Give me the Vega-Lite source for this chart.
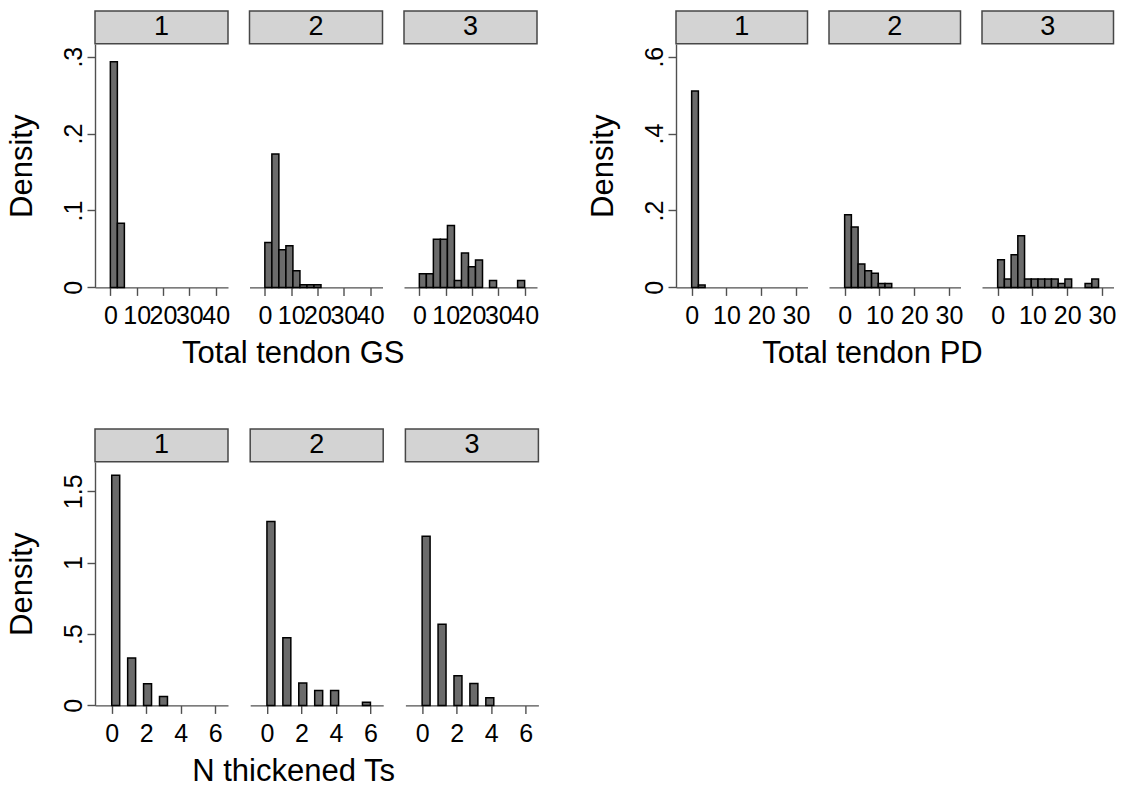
{
"$schema": "https://vega.github.io/schema/vega-lite/v6.json",
"background": "white",
"padding": {"left": 6, "top": 10, "right": 0, "bottom": 0},
"config": {
  "font": "Liberation Sans",
  "view": {"stroke": null},
  "axis": {"grid": false, "domainColor": "#505050", "tickColor": "#505050", "domainWidth": 1.4, "tickWidth": 1.4, "tickSize": 8, "labelFontSize": 25, "labelColor": "#000", "titleFontSize": 31, "titleFontWeight": "normal", "titleColor": "#000", "labelOverlap": false, "labelFlush": false},
  "axisX": {"labelPadding": 8},
  "axisY": {"labelAngle": -90, "labelAlign": "center", "labelBaseline": "bottom", "labelPadding": 1, "titlePadding": 23},
  "title": {"fontSize": 31, "fontWeight": "normal", "color": "#000"}
},
"datasets": {
  "gs": [
    {"panel":"1","x0":0,"x1":2.667,"d":0.2935},
    {"panel":"1","x0":2.667,"x1":5.333,"d":0.0835},
    {"panel":"2","x0":0,"x1":2.667,"d":0.0584},
    {"panel":"2","x0":2.667,"x1":5.333,"d":0.1736},
    {"panel":"2","x0":5.333,"x1":8,"d":0.0489},
    {"panel":"2","x0":8,"x1":10.667,"d":0.0541},
    {"panel":"2","x0":10.667,"x1":13.333,"d":0.0216},
    {"panel":"2","x0":13.333,"x1":16,"d":0.0035},
    {"panel":"2","x0":16,"x1":18.667,"d":0.0035},
    {"panel":"2","x0":18.667,"x1":21.333,"d":0.0035},
    {"panel":"3","x0":0,"x1":2.667,"d":0.0179},
    {"panel":"3","x0":2.667,"x1":5.333,"d":0.0179},
    {"panel":"3","x0":5.333,"x1":8,"d":0.0625},
    {"panel":"3","x0":8,"x1":10.667,"d":0.0625},
    {"panel":"3","x0":10.667,"x1":13.333,"d":0.0804},
    {"panel":"3","x0":13.333,"x1":16,"d":0.0089},
    {"panel":"3","x0":16,"x1":18.667,"d":0.0446},
    {"panel":"3","x0":18.667,"x1":21.333,"d":0.0268},
    {"panel":"3","x0":21.333,"x1":24,"d":0.0357},
    {"panel":"3","x0":26.667,"x1":29.333,"d":0.0089},
    {"panel":"3","x0":37.333,"x1":40,"d":0.0089}
  ],
  "pd": [
    {"panel":"1","x0":0,"x1":1.933,"d":0.511},
    {"panel":"1","x0":1.933,"x1":3.867,"d":0.006},
    {"panel":"2","x0":0,"x1":1.933,"d":0.189},
    {"panel":"2","x0":1.933,"x1":3.867,"d":0.157},
    {"panel":"2","x0":3.867,"x1":5.8,"d":0.061},
    {"panel":"2","x0":5.8,"x1":7.733,"d":0.0435},
    {"panel":"2","x0":7.733,"x1":9.667,"d":0.0365},
    {"panel":"2","x0":9.667,"x1":11.6,"d":0.0104},
    {"panel":"2","x0":11.6,"x1":13.533,"d":0.0104},
    {"panel":"3","x0":0,"x1":1.933,"d":0.072},
    {"panel":"3","x0":1.933,"x1":3.867,"d":0.0217},
    {"panel":"3","x0":3.867,"x1":5.8,"d":0.085},
    {"panel":"3","x0":5.8,"x1":7.733,"d":0.134},
    {"panel":"3","x0":7.733,"x1":9.667,"d":0.0217},
    {"panel":"3","x0":9.667,"x1":11.6,"d":0.0217},
    {"panel":"3","x0":11.6,"x1":13.533,"d":0.0217},
    {"panel":"3","x0":13.533,"x1":15.467,"d":0.0217},
    {"panel":"3","x0":15.467,"x1":17.4,"d":0.0217},
    {"panel":"3","x0":17.4,"x1":19.333,"d":0.0104},
    {"panel":"3","x0":19.333,"x1":21.267,"d":0.0217},
    {"panel":"3","x0":25.133,"x1":27.067,"d":0.0104},
    {"panel":"3","x0":27.067,"x1":29,"d":0.0217}
  ],
  "nt": [
    {"panel":"1","x0":0,"x1":0.4615,"d":1.612},
    {"panel":"1","x0":0.923,"x1":1.385,"d":0.332},
    {"panel":"1","x0":1.846,"x1":2.308,"d":0.152},
    {"panel":"1","x0":2.769,"x1":3.231,"d":0.063},
    {"panel":"2","x0":0,"x1":0.4615,"d":1.289},
    {"panel":"2","x0":0.923,"x1":1.385,"d":0.474},
    {"panel":"2","x0":1.846,"x1":2.308,"d":0.157},
    {"panel":"2","x0":2.769,"x1":3.231,"d":0.105},
    {"panel":"2","x0":3.692,"x1":4.154,"d":0.105},
    {"panel":"2","x0":5.538,"x1":6,"d":0.022},
    {"panel":"3","x0":0,"x1":0.4615,"d":1.185},
    {"panel":"3","x0":0.923,"x1":1.385,"d":0.568},
    {"panel":"3","x0":1.846,"x1":2.308,"d":0.208},
    {"panel":"3","x0":2.769,"x1":3.231,"d":0.154},
    {"panel":"3","x0":3.692,"x1":4.154,"d":0.054}
  ]
},
"spacing": 58,
"vconcat": [
{
 "spacing": 48,
 "hconcat": [
 {
  "title": {"text": "Total tendon GS", "orient": "bottom", "anchor": "middle", "frame": "bounds", "dx": 21, "offset": 11},
  "spacing": 18.5,
  "hconcat": [
   {"spacing": 0, "bounds": "flush", "vconcat": [
     {"width": 133, "height": 32.7, "view": {"fill": "#d3d3d3", "stroke": "#474747", "strokeWidth": 1.5}, "data": {"values": [{"p": "1"}]}, "mark": {"type": "text", "fontSize": 27, "color": "#000"}, "encoding": {"text": {"field": "p"}}},
     {"width": 133, "height": 243.4, "data": {"name": "gs"}, "transform": [{"filter": "datum.panel == '1'"}],
      "mark": {"type": "rect", "fill": "#6b6b6b", "stroke": "#000", "strokeWidth": 1.5},
      "encoding": {
        "x": {"field": "x0", "type": "quantitative", "scale": {"domain": [-5.83, 44.7], "nice": false, "zero": false}, "axis": {"values": [0,10,20,30,40], "title": null}},
        "x2": {"field": "x1"},
        "y": {"field": "d", "type": "quantitative", "scale": {"domain": [0, 0.3165], "nice": false}, "axis": {"values": [0,0.1,0.2,0.3], "title": "Density", "labelExpr": "datum.value > 0 && datum.value < 1 ? substring(format(datum.value, '~g'), 1) : format(datum.value, '~g')"}},
        "y2": {"datum": 0}
      }}
   ]},
   {"spacing": 0, "bounds": "flush", "vconcat": [
     {"width": 133, "height": 32.7, "view": {"fill": "#d3d3d3", "stroke": "#474747", "strokeWidth": 1.5}, "data": {"values": [{"p": "2"}]}, "mark": {"type": "text", "fontSize": 27, "color": "#000"}, "encoding": {"text": {"field": "p"}}},
     {"width": 133, "height": 243.4, "data": {"name": "gs"}, "transform": [{"filter": "datum.panel == '2'"}],
      "mark": {"type": "rect", "fill": "#6b6b6b", "stroke": "#000", "strokeWidth": 1.5},
      "encoding": {
        "x": {"field": "x0", "type": "quantitative", "scale": {"domain": [-5.83, 44.7], "nice": false, "zero": false}, "axis": {"values": [0,10,20,30,40], "title": null}},
        "x2": {"field": "x1"},
        "y": {"field": "d", "type": "quantitative", "scale": {"domain": [0, 0.3165], "nice": false}, "axis": null},
        "y2": {"datum": 0}
      }}
   ]},
   {"spacing": 0, "bounds": "flush", "vconcat": [
     {"width": 133, "height": 32.7, "view": {"fill": "#d3d3d3", "stroke": "#474747", "strokeWidth": 1.5}, "data": {"values": [{"p": "3"}]}, "mark": {"type": "text", "fontSize": 27, "color": "#000"}, "encoding": {"text": {"field": "p"}}},
     {"width": 133, "height": 243.4, "data": {"name": "gs"}, "transform": [{"filter": "datum.panel == '3'"}],
      "mark": {"type": "rect", "fill": "#6b6b6b", "stroke": "#000", "strokeWidth": 1.5},
      "encoding": {
        "x": {"field": "x0", "type": "quantitative", "scale": {"domain": [-5.83, 44.7], "nice": false, "zero": false}, "axis": {"values": [0,10,20,30,40], "title": null}},
        "x2": {"field": "x1"},
        "y": {"field": "d", "type": "quantitative", "scale": {"domain": [0, 0.3165], "nice": false}, "axis": null},
        "y2": {"datum": 0}
      }}
   ]}
  ]
 },
 {
  "title": {"text": "Total tendon PD", "orient": "bottom", "anchor": "middle", "frame": "bounds", "dx": 21, "offset": 11},
  "spacing": 18,
  "hconcat": [
   {"spacing": 0, "bounds": "flush", "vconcat": [
     {"width": 131.5, "height": 32.7, "view": {"fill": "#d3d3d3", "stroke": "#474747", "strokeWidth": 1.5}, "data": {"values": [{"p": "1"}]}, "mark": {"type": "text", "fontSize": 27, "color": "#000"}, "encoding": {"text": {"field": "p"}}},
     {"width": 131.5, "height": 243.4, "data": {"name": "pd"}, "transform": [{"filter": "datum.panel == '1'"}],
      "mark": {"type": "rect", "fill": "#6b6b6b", "stroke": "#000", "strokeWidth": 1.5},
      "encoding": {
        "x": {"field": "x0", "type": "quantitative", "scale": {"domain": [-4.5, 33.3], "nice": false, "zero": false}, "axis": {"values": [0,10,20,30], "title": null}},
        "x2": {"field": "x1"},
        "y": {"field": "d", "type": "quantitative", "scale": {"domain": [0, 0.633], "nice": false}, "axis": {"values": [0,0.2,0.4,0.6], "title": "Density", "labelExpr": "datum.value > 0 && datum.value < 1 ? substring(format(datum.value, '~g'), 1) : format(datum.value, '~g')"}},
        "y2": {"datum": 0}
      }}
   ]},
   {"spacing": 0, "bounds": "flush", "vconcat": [
     {"width": 131.5, "height": 32.7, "view": {"fill": "#d3d3d3", "stroke": "#474747", "strokeWidth": 1.5}, "data": {"values": [{"p": "2"}]}, "mark": {"type": "text", "fontSize": 27, "color": "#000"}, "encoding": {"text": {"field": "p"}}},
     {"width": 131.5, "height": 243.4, "data": {"name": "pd"}, "transform": [{"filter": "datum.panel == '2'"}],
      "mark": {"type": "rect", "fill": "#6b6b6b", "stroke": "#000", "strokeWidth": 1.5},
      "encoding": {
        "x": {"field": "x0", "type": "quantitative", "scale": {"domain": [-4.5, 33.3], "nice": false, "zero": false}, "axis": {"values": [0,10,20,30], "title": null}},
        "x2": {"field": "x1"},
        "y": {"field": "d", "type": "quantitative", "scale": {"domain": [0, 0.633], "nice": false}, "axis": null},
        "y2": {"datum": 0}
      }}
   ]},
   {"spacing": 0, "bounds": "flush", "vconcat": [
     {"width": 131.5, "height": 32.7, "view": {"fill": "#d3d3d3", "stroke": "#474747", "strokeWidth": 1.5}, "data": {"values": [{"p": "3"}]}, "mark": {"type": "text", "fontSize": 27, "color": "#000"}, "encoding": {"text": {"field": "p"}}},
     {"width": 131.5, "height": 243.4, "data": {"name": "pd"}, "transform": [{"filter": "datum.panel == '3'"}],
      "mark": {"type": "rect", "fill": "#6b6b6b", "stroke": "#000", "strokeWidth": 1.5},
      "encoding": {
        "x": {"field": "x0", "type": "quantitative", "scale": {"domain": [-4.5, 33.3], "nice": false, "zero": false}, "axis": {"values": [0,10,20,30], "title": null}},
        "x2": {"field": "x1"},
        "y": {"field": "d", "type": "quantitative", "scale": {"domain": [0, 0.633], "nice": false}, "axis": null},
        "y2": {"datum": 0}
      }}
   ]}
  ]
 }
 ]
},
{
  "title": {"text": "N thickened Ts", "orient": "bottom", "anchor": "middle", "frame": "bounds", "dx": 21, "offset": 11},
  "spacing": 20.2,
  "hconcat": [
   {"spacing": 0, "bounds": "flush", "vconcat": [
     {"width": 133, "height": 32.7, "view": {"fill": "#d3d3d3", "stroke": "#474747", "strokeWidth": 1.5}, "data": {"values": [{"p": "1"}]}, "mark": {"type": "text", "fontSize": 27, "color": "#000"}, "encoding": {"text": {"field": "p"}}},
     {"width": 133, "height": 243.4, "data": {"name": "nt"}, "transform": [{"filter": "datum.panel == '1'"}],
      "mark": {"type": "rect", "fill": "#6b6b6b", "stroke": "#000", "strokeWidth": 1.5},
      "encoding": {
        "x": {"field": "x0", "type": "quantitative", "scale": {"domain": [-0.97, 6.74], "nice": false, "zero": false}, "axis": {"values": [0,2,4,6], "title": null}},
        "x2": {"field": "x1"},
        "y": {"field": "d", "type": "quantitative", "scale": {"domain": [0, 1.705], "nice": false}, "axis": {"values": [0,0.5,1,1.5], "title": "Density", "labelExpr": "datum.value > 0 && datum.value < 1 ? substring(format(datum.value, '~g'), 1) : format(datum.value, '~g')"}},
        "y2": {"datum": 0}
      }}
   ]},
   {"spacing": 0, "bounds": "flush", "vconcat": [
     {"width": 133, "height": 32.7, "view": {"fill": "#d3d3d3", "stroke": "#474747", "strokeWidth": 1.5}, "data": {"values": [{"p": "2"}]}, "mark": {"type": "text", "fontSize": 27, "color": "#000"}, "encoding": {"text": {"field": "p"}}},
     {"width": 133, "height": 243.4, "data": {"name": "nt"}, "transform": [{"filter": "datum.panel == '2'"}],
      "mark": {"type": "rect", "fill": "#6b6b6b", "stroke": "#000", "strokeWidth": 1.5},
      "encoding": {
        "x": {"field": "x0", "type": "quantitative", "scale": {"domain": [-0.97, 6.74], "nice": false, "zero": false}, "axis": {"values": [0,2,4,6], "title": null}},
        "x2": {"field": "x1"},
        "y": {"field": "d", "type": "quantitative", "scale": {"domain": [0, 1.705], "nice": false}, "axis": null},
        "y2": {"datum": 0}
      }}
   ]},
   {"spacing": 0, "bounds": "flush", "vconcat": [
     {"width": 133, "height": 32.7, "view": {"fill": "#d3d3d3", "stroke": "#474747", "strokeWidth": 1.5}, "data": {"values": [{"p": "3"}]}, "mark": {"type": "text", "fontSize": 27, "color": "#000"}, "encoding": {"text": {"field": "p"}}},
     {"width": 133, "height": 243.4, "data": {"name": "nt"}, "transform": [{"filter": "datum.panel == '3'"}],
      "mark": {"type": "rect", "fill": "#6b6b6b", "stroke": "#000", "strokeWidth": 1.5},
      "encoding": {
        "x": {"field": "x0", "type": "quantitative", "scale": {"domain": [-0.97, 6.74], "nice": false, "zero": false}, "axis": {"values": [0,2,4,6], "title": null}},
        "x2": {"field": "x1"},
        "y": {"field": "d", "type": "quantitative", "scale": {"domain": [0, 1.705], "nice": false}, "axis": null},
        "y2": {"datum": 0}
      }}
   ]}
  ]
}
]
}
